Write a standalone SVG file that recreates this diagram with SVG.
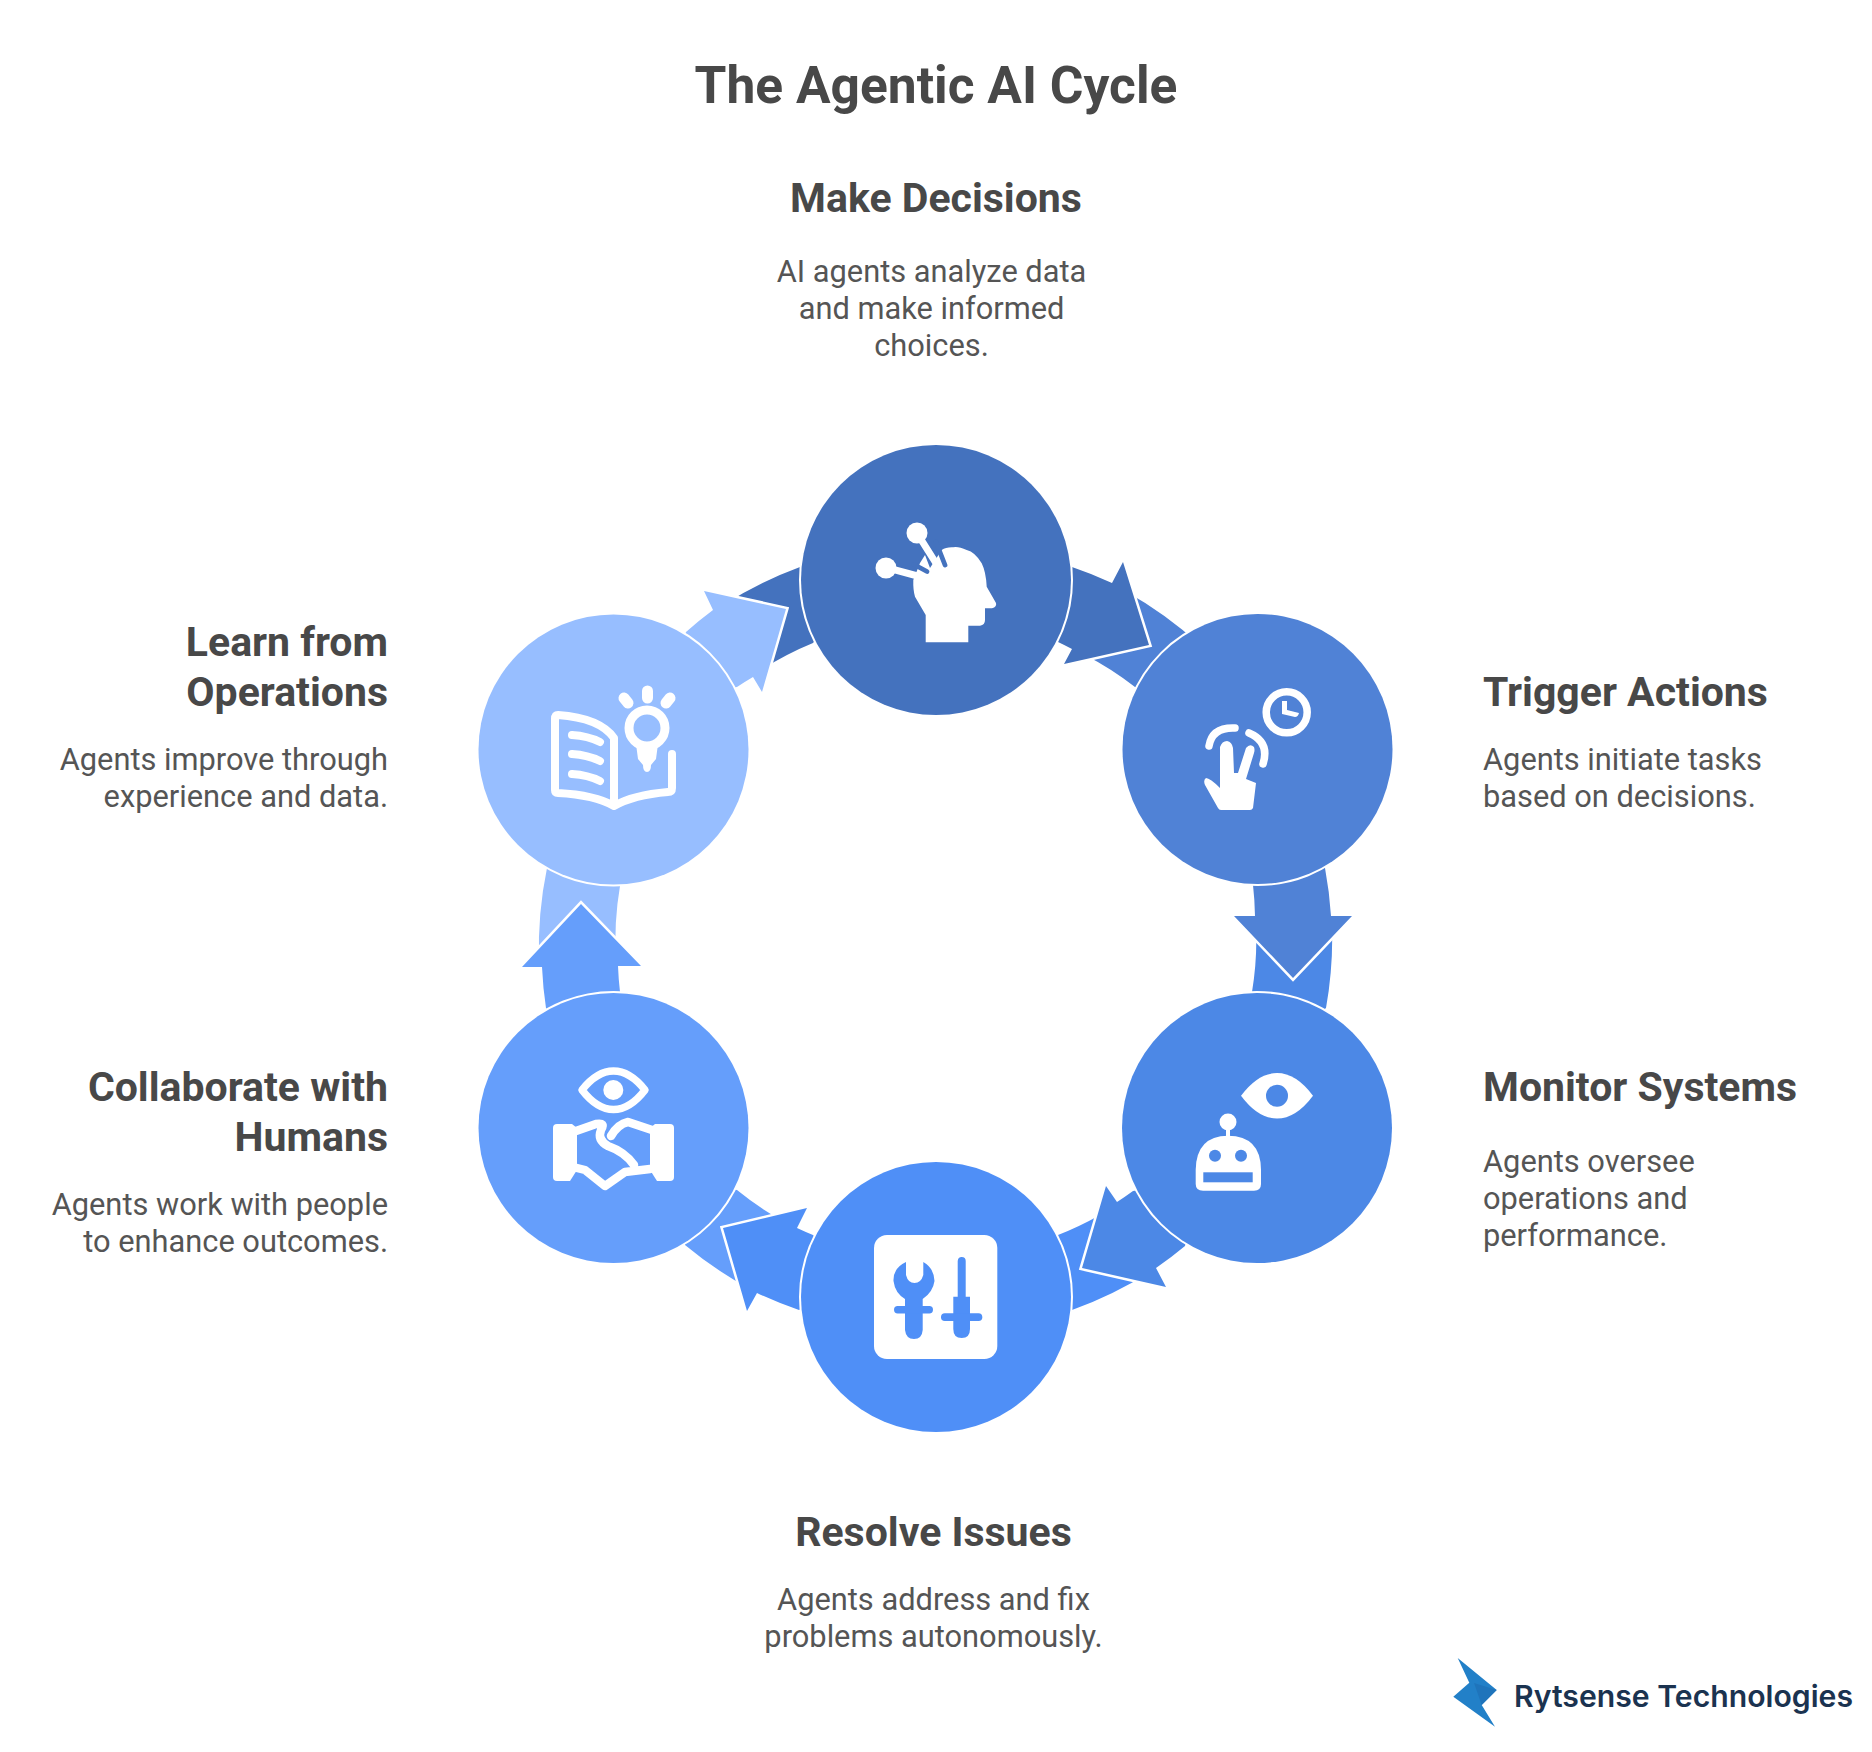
<svg xmlns="http://www.w3.org/2000/svg" width="1872" height="1752" viewBox="0 0 1872 1752">
<style>
text{font-family:Roboto,"Liberation Sans",sans-serif;fill:#484848}
.t{font-size:51.500px;font-weight:700}
.h{font-size:41px;font-weight:700}
.b{font-size:30.800px;font-weight:400;fill:#555}
.m{text-anchor:middle}.e{text-anchor:end}
.arr{stroke:#fff;stroke-width:5;stroke-linejoin:miter;paint-order:stroke}
.node{stroke:#fff;stroke-width:4;paint-order:stroke}
.c1{fill:#4472BE}.c2{fill:#5082D6}.c3{fill:#4C88E6}.c4{fill:#4F8FF7}.c5{fill:#659EFB}.c6{fill:#97BEFF}
.w{fill:#fff}
.ws{fill:none;stroke:#fff;stroke-linecap:round;stroke-linejoin:round}
</style>
<rect width="1872" height="1752" fill="#fff"/>
<text class="t m" x="936" y="103">The Agentic AI Cycle</text>
<g id="connectors">
<path class="c2" d="M1125 591A396 396 0 0 1 1200 645L1230 720L1135 687A321 321 0 0 0 1085 655Z"/>
<path class="c3" d="M1332 925A396 396 0 0 1 1326 1008L1260 1060L1252 992A321 321 0 0 0 1256 925Z"/>
<path class="c4" d="M1100 1215A321 321 0 0 1 1058 1235L1000 1260L1072 1310A396 396 0 0 0 1150 1272Z"/>
<path class="c5" d="M790 1225A321 321 0 0 1 737 1190L680 1180L685 1245A396 396 0 0 0 750 1289Z"/>
<path class="c6" d="M539 960A396 396 0 0 1 547 868L600 830L620 886A321 321 0 0 0 616 960Z"/>
<path class="c1" d="M725 604A396 396 0 0 1 800 567L860 580L813 643A321 321 0 0 0 755 674Z"/>
<path class="c1 arr" d="M1000 580L1072 567A396 396 0 0 1 1112 583L1123 562L1149 645L1064 664L1072 649A321 321 0 0 0 1058 642Z"/>
<path class="c2 arr" d="M1290 800L1325 868A396 396 0 0 1 1331 916L1352 916L1293 978L1234 916L1255 916A321 321 0 0 0 1253 885Z"/>
<path class="c3 arr" d="M1200 1180L1133 1191A321 321 0 0 1 1117 1202L1106 1186L1082 1268L1166 1287L1156 1268A396 396 0 0 0 1185 1246Z"/>
<path class="c4 arr" d="M870 1290L799 1310A396 396 0 0 1 757 1293L747 1311L723 1228L807 1208L797 1228A321 321 0 0 0 813 1235Z"/>
<path class="c5 arr" d="M580 1060L546 1008A396 396 0 0 1 542 967L522 967L581 904L641 966L618 966A321 321 0 0 0 620 992Z"/>
<path class="c6 arr" d="M660 700L737 687A321 321 0 0 1 753 677L762 692L786 609L704 591L713 610A396 396 0 0 0 686 632Z"/>
</g>
<g id="node-make-decisions">
<circle class="c1 node" cx="936" cy="580" r="135"/>
<path class="w" d="M925.700 642.300H968.300V625.700H980Q985 625 985 620V608.300H992Q997 607 996 603L986.700 586.700Q986 572 981.700 563.300Q975 552 966.700 550Q958 546 953 547.300Q946 547 941.700 550L930 568L925 555L920 563L913.300 580Q913 590 915 596.700L925.700 615Z"/>
<g class="ws"><path stroke-width="7" d="M916.700 532.700L939 568M885.700 567.300L925 578"/><path stroke="#4472BE" stroke-width="4.800" d="M936 542L945 565M914 564.500L927 571.500"/></g>
<circle class="w" cx="917" cy="533" r="10.500"/><circle class="w" cx="886" cy="568" r="10.500"/>
<text class="h m" x="936" y="212">Make Decisions</text>
<text class="b m" x="931.500" y="282">AI agents analyze data</text>
<text class="b m" x="931.500" y="319">and make informed</text>
<text class="b m" x="931.500" y="356">choices.</text>
</g>
<g id="node-trigger-actions">
<circle class="c2 node" cx="1257.500" cy="749" r="135"/>
<circle class="ws" stroke-width="7.500" cx="1286.700" cy="712.300" r="20.500"/>
<path class="w" d="M1282 701H1287V710L1299 713Q1298 717 1295 717L1282 714Z"/>
<path class="ws" stroke-width="7.500" d="M1209 746Q1212 727 1235 728M1249 733Q1270 742 1263 764"/>
<path class="w" d="M1206 778Q1210 778 1220 788V747Q1222 741 1227 741Q1232 742 1233 748L1234 773L1238 773L1246 748Q1250 743 1254 747Q1255 750 1254 753L1246 779L1256 783L1253 808Q1252 810 1250 810H1221Q1219 810 1218 808L1205 785Q1203 780 1206 778Z"/>
<text class="h" x="1483" y="706">Trigger Actions</text>
<text class="b" x="1483" y="770">Agents initiate tasks</text>
<text class="b" x="1483" y="807">based on decisions.</text>
</g>
<g id="node-monitor-systems">
<circle class="c3 node" cx="1257" cy="1128" r="135"/>
<path class="w" d="M1241 1095.700Q1258 1073 1277 1073Q1296 1073 1313 1095.700Q1296 1118.500 1277 1118.500Q1258 1118.500 1241 1095.700Z"/>
<circle class="c3" cx="1277" cy="1095.700" r="11"/>
<circle class="w" cx="1228" cy="1122" r="8.500"/>
<rect class="w" x="1226" y="1125" width="4" height="14"/>
<path class="w" d="M1195.700 1170Q1196 1136 1228 1135.700Q1261 1136 1261 1170V1184Q1261 1190.700 1254 1190.700H1203Q1195.700 1190.700 1195.700 1184Z"/>
<circle class="c3" cx="1215" cy="1155.700" r="6"/><circle class="c3" cx="1241" cy="1155.700" r="6"/>
<rect class="c3" x="1203.300" y="1172.300" width="49.400" height="10"/>
<text class="h" x="1483" y="1101">Monitor Systems</text>
<text class="b" x="1483" y="1172">Agents oversee</text>
<text class="b" x="1483" y="1209">operations and</text>
<text class="b" x="1483" y="1246">performance.</text>
</g>
<g id="node-resolve-issues">
<circle class="c4 node" cx="936" cy="1297" r="135"/>
<rect class="w" x="874" y="1235" width="123.300" height="124" rx="13"/>
<path class="c4" d="M906 1262Q893 1268 893.500 1281Q895 1293 905 1299V1330Q906 1339 914 1339Q922 1339 922.700 1330V1299Q933 1292 934.500 1281Q934 1268 923.300 1262V1275Q921 1283 914.500 1283Q908 1283 906 1275Z"/>
<rect class="c4" x="894" y="1306" width="39" height="7.500" rx="3.700"/>
<path class="c4" d="M957.700 1261Q958 1257 961.700 1257Q965.700 1257 965.700 1261V1296.700H970V1329Q970 1338 961.700 1338Q953.300 1338 953.300 1329V1296.700H957.700Z"/>
<rect class="c4" x="941" y="1313.300" width="41.300" height="7.700" rx="3.800"/>
<text class="h m" x="933.500" y="1546">Resolve Issues</text>
<text class="b m" x="933.500" y="1610">Agents address and fix</text>
<text class="b m" x="933.500" y="1647">problems autonomously.</text>
</g>
<g id="node-collaborate">
<circle class="c5 node" cx="613.500" cy="1128" r="135"/>
<path class="ws" stroke-width="7.500" d="M582 1090Q597 1071 613.500 1071Q630 1071 645 1090Q630 1109.500 613.500 1109.500Q597 1109.500 582 1090Z"/>
<circle class="w" cx="613.300" cy="1090" r="10"/>
<path class="w" d="M553 1128Q553 1124 557 1124H572L577 1128V1170L570 1181H557Q553 1181 553 1177Z"/>
<path class="w" d="M674 1128Q674 1124 670 1124H655L650 1128V1170L657 1181H670Q674 1181 674 1177Z"/>
<path class="ws" stroke-width="8.500" d="M576 1131L596 1124Q606 1122 601 1130Q597 1140 608 1146Q625 1152 634 1165M577 1168L585 1170L605 1186L625 1172L650 1169M611 1136Q618 1124 628 1122L652 1130"/>
<text class="h e" x="388" y="1101">Collaborate with</text>
<text class="h e" x="388" y="1151">Humans</text>
<text class="b e" x="388" y="1215">Agents work with people</text>
<text class="b e" x="388" y="1252">to enhance outcomes.</text>
</g>
<g id="node-learn">
<circle class="c6 node" cx="613.500" cy="749.500" r="135"/>
<path class="ws" stroke-width="8" d="M614 803V738Q600 718 558 715Q555 715 555 719V790Q555 793 558 793Q595 795 614 806Q633 795 668 792Q672 792 672 788V754"/>
<path class="ws" stroke-width="8" d="M572 735Q588 736 600 742M572 754Q588 755 600 761M572 774Q588 775 600 781"/>
<circle class="ws" stroke-width="9" cx="647" cy="728" r="18"/>
<path class="w" d="M636 744L658 744L656 759L651 765Q651 772 647 772Q643 772 643 765L638 759Z"/>
<path class="ws" stroke-width="11" d="M624 698L628 703M647.500 691V698M670 698L666 703"/>
<text class="h e" x="388" y="656">Learn from</text>
<text class="h e" x="388" y="706">Operations</text>
<text class="b e" x="388" y="770">Agents improve through</text>
<text class="b e" x="388" y="807">experience and data.</text>
</g>
<g id="logo">
<path fill="#2280C8" d="M1457.700 1658L1496.700 1690L1481.700 1705L1495 1726.700L1453.300 1696.700L1469.300 1682.700Z"/>
<path fill="#1F74BB" d="M1474 1683L1496.700 1690L1481.700 1705Z"/>
<text x="1514" y="1707" textLength="339" lengthAdjust="spacingAndGlyphs" style="font-family:Inter,'Liberation Sans',sans-serif;font-size:30px;font-weight:600;fill:#1B3350">Rytsense Technologies</text>
</g>
</svg>
